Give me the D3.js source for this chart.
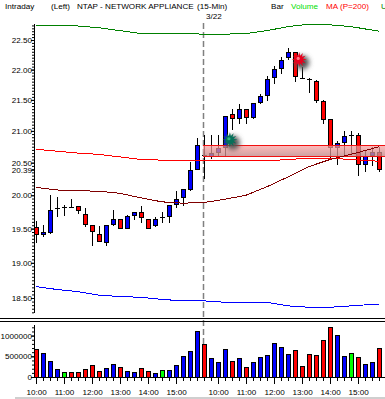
<!DOCTYPE html>
<html>
<head>
<meta charset="utf-8">
<script src="https://cdn.jsdelivr.net/npm/d3@7"></script>
<style>
    html, body { margin: 0; padding: 0; background: #fff; overflow: hidden; }
    svg { display: block; }
    text { font-family: "Liberation Sans", Arial, sans-serif; font-size: 8.1px; fill: #000; }
</style>
</head>
<body>
<div id="chart"></div>
<script>
// NTAP 15 min bars, two sessions.
const opens = [19.52,19.42,19.45,19.80,19.81,19.82,19.83,19.72,19.56,19.42,19.31,19.57,19.65,19.51,19.69,19.74,19.65,19.56,19.66,19.69,19.87,19.98,20.10,20.41,
    20.61,20.61,20.67,20.74,21.27,21.21,21.35,21.22,21.46,21.59,21.87,22.03,22.21,22.29,21.86,21.84,21.81,21.48,21.19,20.75,20.82,20.92,20.93,20.48,20.63,20.67];
const closes = [19.42,19.45,19.77,19.80,19.81,19.82,19.77,19.57,19.47,19.31,19.56,19.65,19.51,19.69,19.74,19.66,19.51,19.65,19.66,19.86,19.95,20.10,20.39,20.78,
    20.61,20.65,20.73,21.24,21.21,21.35,21.22,21.45,21.56,21.85,22.01,22.16,22.29,21.88,21.86,21.84,21.50,21.19,20.75,20.81,20.92,20.92,20.48,20.60,20.67,20.41];
const highs = [19.62,19.56,20.00,19.98,19.85,19.95,19.83,19.80,19.56,19.54,19.56,19.77,19.65,19.70,19.75,19.84,19.65,19.68,19.74,19.86,20.07,20.10,20.51,20.89,
    20.94,20.94,20.94,21.24,21.35,21.43,21.35,21.45,21.60,21.89,22.06,22.22,22.36,22.29,22.04,21.86,21.83,21.50,21.19,20.84,21.00,21.00,20.96,20.68,20.75,20.75];
const lows = [19.29,19.38,19.42,19.68,19.69,19.80,19.71,19.53,19.25,19.30,19.25,19.54,19.50,19.50,19.63,19.58,19.49,19.53,19.58,19.58,19.81,19.83,20.06,20.39,
    20.25,20.55,20.61,20.61,21.02,21.11,21.11,21.19,21.43,21.48,21.76,21.93,22.16,21.79,21.84,21.61,21.45,21.11,20.56,20.47,20.59,20.62,20.30,20.35,20.45,20.36];

const volumes = [684000,588000,394000,201000,129000,129000,129000,201000,298000,153000,225000,322000,250000,153000,129000,225000,153000,105000,177000,177000,298000,515000,636000,1119000,
    805000,467000,370000,684000,394000,467000,250000,370000,491000,539000,829000,733000,564000,660000,274000,564000,539000,902000,1216000,1022000,515000,588000,491000,322000,370000,708000];
const volumeDirs = ["down","up","up","up","flat","down","down","down","down","down","up","up","down","up","up","down","down","up","flat","up","up","up","up","up",
    "down","up","up","up","down","up","down","up","up","up","up","up","up","down","down","down","down","down","down","up","up","flat","down","up","up","down"];

// overlay lines, sampled every third bar
const lineBars = [0,3,6,9,12,15,18,21,24,27,30,33,36,39,42,45,48,49];
const upperBand = [22.75,22.75,22.74,22.71,22.66,22.61,22.61,22.61,22.60,22.60,22.61,22.66,22.73,22.77,22.76,22.73,22.67,22.65];
const ma200 = [20.71,20.68,20.65,20.63,20.59,20.55,20.54,20.53,20.53,20.53,20.53,20.53,20.55,20.57,20.57,20.55,20.53,20.52];
const maSlow = [20.12,20.08,20.07,20.06,20.03,19.96,19.90,19.88,19.89,19.94,20.00,20.13,20.28,20.44,20.55,20.63,20.72,20.75];
const lowerBand = [18.66,18.62,18.59,18.54,18.52,18.51,18.48,18.46,18.46,18.44,18.44,18.44,18.39,18.37,18.37,18.39,18.41,18.41];

const priceTicks = [22.5,22,21.5,21,20.5,20.39,20,19.5,19,18.5];
const volumeTicks = [0,500000,1000000];
const hourBars = [0,4,8,12,16,20,26,30,34,38,42,46];
const hourLabels = ["10:00","11:00","12:00","13:00","14:00","15:00","10:00","11:00","12:00","13:00","14:00","15:00"];

const dividerBar = 24;
const zoneTop = 20.77;
const zoneBottom = 20.60;
const starBars = [27.7,37.6];
const starPrices = [20.86,22.17];
const starColors = [["#2fb884","#06705a"],["#ff7a86","#e8001c"]];

function main() {
    let width = 385;
    let height = 399;

    let svg = d3.select("#chart").append("svg")
        .attr("width", width)
        .attr("height", height);

    let defs = svg.append("defs");
    let zoneGrad = defs.append("linearGradient")
        .attr("id", "zoneGrad")
        .attr("x1", 0).attr("x2", 0).attr("y1", 0).attr("y2", 1);
    zoneGrad.append("stop").attr("offset", "0%").attr("stop-color", "#ff9c9c").attr("stop-opacity", 0.7);
    zoneGrad.append("stop").attr("offset", "100%").attr("stop-color", "#c08a8a").attr("stop-opacity", 0.8);
    defs.append("filter").attr("id", "soft")
        .attr("x", "-50%").attr("y", "-50%").attr("width", "200%").attr("height", "200%")
        .append("feGaussianBlur").attr("stdDeviation", 2.4);

    let xScale = d3.scaleLinear().domain([0, 49]).range([36, 379]);
    let yPrice = d3.scaleLog().domain([22.5, 18.5]).range([40, 298]);
    let yVolume = d3.scaleLinear().domain([0, 1000000]).range([377, 335.6]);
    let volumeColor = d3.scaleOrdinal().domain(["up", "down", "flat"]).range(["#0000ff", "#ff0000", "#00ff00"]);

    // header
    let header = [
        [5, "Intraday", "#000"], [51, "(Left)", "#000"], [77, "NTAP - NETWORK APPLIANCE", "#000"],
        [197, "(15-Min)", "#000"], [271, "Bar", "#000"], [291, "Volume", "#00e000"],
        [326, "MA (P=200)", "#ff0000"], [381, "U", "#008000"]
    ];
    svg.append("g").selectAll("text").data(header).enter().append("text")
        .attr("x", d => d[0])
        .attr("y", 9)
        .style("fill", d => d[2])
        .text(d => d[1]);
    svg.append("text").attr("x", 206).attr("y", 19).text("3/22");

    // session divider
    svg.append("line")
        .attr("x1", 203.5).attr("x2", 203.5)
        .attr("y1", 23).attr("y2", 345)
        .attr("stroke", "#808080")
        .attr("stroke-width", 1.5)
        .attr("stroke-dasharray", "6,3");

    // candles
    let candles = svg.append("g").attr("shape-rendering", "crispEdges");
    d3.range(opens.length).forEach(function(i) {
        let x = Math.round(xScale(i));
        candles.append("line")
            .attr("x1", x + 0.5).attr("x2", x + 0.5)
            .attr("y1", yPrice(highs[i])).attr("y2", yPrice(lows[i]))
            .attr("stroke", "#000");
        if (opens[i] === closes[i]) {
            candles.append("line")
                .attr("x1", x - 2).attr("x2", x + 3)
                .attr("y1", yPrice(opens[i])).attr("y2", yPrice(opens[i]))
                .attr("stroke", "#000");
        } else {
            let top = Math.max(opens[i], closes[i]);
            let bottom = Math.min(opens[i], closes[i]);
            candles.append("rect")
                .attr("x", x - 1.5)
                .attr("y", Math.round(yPrice(top)) + 0.5)
                .attr("width", 4)
                .attr("height", Math.max(1, Math.round(yPrice(bottom) - yPrice(top))))
                .attr("fill", closes[i] > opens[i] ? "#0000ff" : "#ff0000")
                .attr("stroke", "#000");
        }
    });

    // highlighted zone over the candles
    svg.append("rect")
        .attr("x", xScale(dividerBar) - 1)
        .attr("y", yPrice(zoneTop))
        .attr("width", width - xScale(dividerBar) + 1)
        .attr("height", yPrice(zoneBottom) - yPrice(zoneTop))
        .attr("fill", "url(#zoneGrad)");
    svg.append("g").attr("shape-rendering", "crispEdges")
        .selectAll("line").data([zoneTop, zoneBottom]).enter().append("line")
        .attr("x1", xScale(dividerBar) - 1).attr("x2", width)
        .attr("y1", d => yPrice(d)).attr("y2", d => yPrice(d))
        .attr("stroke", "#f01010");

    // overlay lines
    let line = d3.line()
        .x((d, i) => xScale(lineBars[i]))
        .y(d => yPrice(d));
    let overlays = [[upperBand, "#008000"], [ma200, "#ff0000"], [maSlow, "#800000"], [lowerBand, "#0000ff"]];
    svg.append("g").selectAll("path").data(overlays).enter().append("path")
        .attr("d", d => line(d[0]))
        .attr("fill", "none")
        .attr("stroke", d => d[1])
        .attr("stroke-width", 1)
        .attr("shape-rendering", "crispEdges");

    // burst markers
    let burst = d3.lineRadial().curve(d3.curveLinearClosed)
        .angle(d => d[0])
        .radius(d => d[1]);
    let spikes = d3.range(24).map(i => [i * Math.PI / 12, i % 2 ? 3.8 : 7.4]);
    starBars.forEach(function(bar, i) {
        let cx = xScale(bar);
        let cy = yPrice(starPrices[i]);
        svg.append("ellipse")
            .attr("cx", cx + 3).attr("cy", cy + 3)
            .attr("rx", 7).attr("ry", 7)
            .attr("fill", "#555")
            .attr("filter", "url(#soft)");
        svg.append("path")
            .attr("transform", "translate(" + cx + "," + cy + ")")
            .attr("d", burst(spikes))
            .attr("fill", starColors[i][1]);
        svg.append("circle")
            .attr("cx", cx - 1).attr("cy", cy - 1)
            .attr("r", 1.6)
            .attr("fill", starColors[i][0]);
    });

    // price axis
    svg.append("line")
        .attr("x1", 34.5).attr("x2", 34.5).attr("y1", 24).attr("y2", 313)
        .attr("stroke", "#000");
    let priceMinor = svg.append("g")
        .attr("transform", "translate(34, 0)")
        .call(d3.axisLeft(yPrice).tickValues(d3.range(18.3, 22.8, 0.05)).tickSize(2).tickFormat(""));
    priceMinor.select(".domain").remove();
    let priceAxis = svg.append("g")
        .attr("transform", "translate(34, 0)")
        .call(d3.axisLeft(yPrice).tickValues(priceTicks).tickSize(3).tickPadding(-1).tickFormat(d3.format(".2f")));
    priceAxis.select(".domain").remove();

    // double rule between the panels
    svg.append("g").attr("shape-rendering", "crispEdges")
        .selectAll("line").data([318.5, 321]).enter().append("line")
        .attr("x1", 0).attr("x2", width)
        .attr("y1", d => d).attr("y2", d => d)
        .attr("stroke", "#000");

    // volume bars
    svg.append("g").attr("shape-rendering", "crispEdges")
        .selectAll("rect").data(volumes).enter().append("rect")
        .attr("x", (d, i) => Math.round(xScale(i)) - 1.5)
        .attr("y", d => Math.round(yVolume(d)) + 0.5)
        .attr("width", 4)
        .attr("height", d => Math.round(yVolume(0) - yVolume(d)))
        .attr("fill", (d, i) => volumeColor(volumeDirs[i]))
        .attr("stroke", "#000");

    // volume axis
    svg.append("line")
        .attr("x1", 34.5).attr("x2", 34.5).attr("y1", 325).attr("y2", 377)
        .attr("stroke", "#000");
    let volumeMinor = svg.append("g")
        .attr("transform", "translate(34, 0)")
        .call(d3.axisLeft(yVolume).tickValues(d3.range(0, 1300000, 100000)).tickSize(2).tickFormat(""));
    volumeMinor.select(".domain").remove();
    let volumeAxis = svg.append("g")
        .attr("transform", "translate(34, 0)")
        .call(d3.axisLeft(yVolume).tickValues(volumeTicks).tickSize(3).tickPadding(-1).tickFormat(d3.format("d")));
    volumeAxis.select(".domain").remove();

    // time axis
    svg.append("line")
        .attr("x1", 34).attr("x2", width).attr("y1", 377.5).attr("y2", 377.5)
        .attr("stroke", "#000");
    let timeMinor = svg.append("g")
        .attr("transform", "translate(0, 377)")
        .call(d3.axisBottom(xScale).tickValues(d3.range(opens.length)).tickSize(4).tickFormat(""));
    timeMinor.select(".domain").remove();
    let timeAxis = svg.append("g")
        .attr("transform", "translate(0, 377)")
        .call(d3.axisBottom(xScale).tickValues(hourBars).tickSize(7).tickPadding(5)
            .tickFormat((d, i) => hourLabels[i]));
    timeAxis.select(".domain").remove();

    // window edge at the bottom
    svg.append("rect")
        .attr("x", 15).attr("y", 397)
        .attr("width", width - 15).attr("height", 2)
        .attr("fill", "#cfcfcf");

    svg.selectAll("g text").style("font-family", "\"Liberation Sans\", Arial, sans-serif").style("font-size", "8.1px");
}

main();
</script>
</body>
</html>
